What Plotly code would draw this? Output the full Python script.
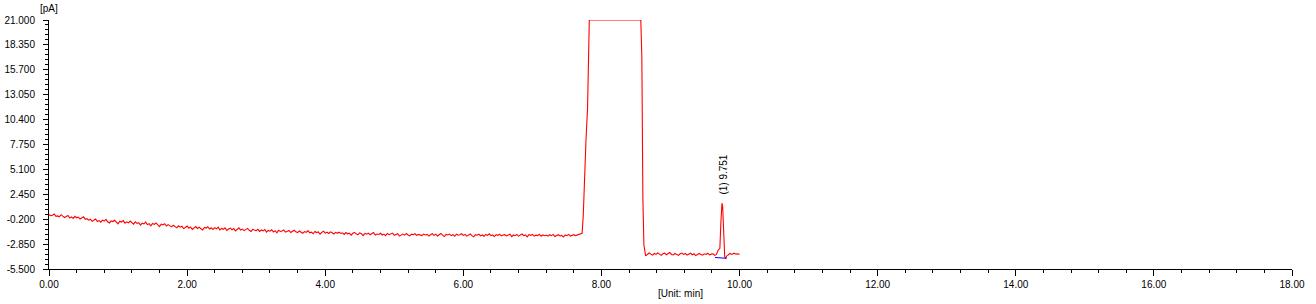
import numpy as np
import plotly.graph_objects as go

# ---- data ----
# baseline before the solvent peak, sampled every 0.025 min from 0.000 to 7.675
base_a_start = 0.0
base_a_step = 0.025
base_a = [
    0.30, 0.18, 0.22, 0.35, 0.10, 0.15, 0.05, 0.28, 0.12, -0.02, 0.08, 0.20, -0.08, 0.05, -0.12, 0.10, -0.05, 0.02, -0.18, -0.10, 0.05, -0.22, -0.15, -0.30,
    -0.20, -0.42, -0.28, -0.18, -0.45, -0.35, -0.52, -0.30, -0.40, -0.22, -0.48, -0.60, -0.38, -0.45, -0.32, -0.55, -0.70, -0.42, -0.50, -0.35, -0.62, -0.48, -0.58, -0.40,
    -0.55, -0.72, -0.48, -0.65, -0.58, -0.82, -0.62, -0.70, -0.52, -0.78, -0.68, -0.90, -0.65, -0.75, -0.60, -0.85, -0.98, -0.72, -0.80, -0.68, -0.92, -0.78, -0.88, -1.02,
    -0.85, -0.98, -1.12, -0.90, -1.05, -0.95, -1.20, -1.08, -0.92, -1.15, -1.02, -1.28, -1.10, -0.98, -1.18, -1.05, -1.22, -1.35, -1.08, -1.15, -1.00, -1.25, -1.12, -1.30,
    -1.10, -1.22, -1.05, -1.35, -1.18, -1.28, -1.12, -1.40, -1.25, -1.15, -1.32, -1.20, -1.45, -1.28, -1.12, -1.35, -1.25, -1.42, -1.30, -1.18, -1.38, -1.50, -1.28, -1.35,
    -1.42, -1.28, -1.50, -1.35, -1.45, -1.30, -1.58, -1.40, -1.48, -1.32, -1.55, -1.42, -1.65, -1.38, -1.50, -1.45, -1.35, -1.58, -1.48, -1.40, -1.62, -1.50, -1.38, -1.55,
    -1.62, -1.45, -1.55, -1.70, -1.52, -1.60, -1.42, -1.65, -1.58, -1.75, -1.50, -1.62, -1.55, -1.80, -1.60, -1.48, -1.68, -1.58, -1.72, -1.55, -1.65, -1.78, -1.60, -1.70,
    -1.58, -1.72, -1.65, -1.82, -1.62, -1.75, -1.68, -1.90, -1.70, -1.60, -1.78, -1.85, -1.65, -1.75, -1.95, -1.72, -1.80, -1.68, -1.85, -1.75, -1.62, -1.88, -1.78, -1.82,
    -1.70, -1.88, -1.78, -1.95, -1.72, -1.85, -1.80, -1.68, -1.92, -1.82, -1.75, -2.00, -1.85, -1.78, -1.90, -1.72, -1.88, -1.98, -1.80, -1.85, -1.75, -1.92, -1.82, -1.88,
    -1.95, -1.78, -1.88, -1.82, -2.00, -1.85, -1.75, -1.92, -1.80, -1.98, -1.88, -1.72, -1.90, -2.05, -1.82, -1.88, -1.78, -1.95, -1.85, -2.02, -1.80, -1.90, -1.85, -1.75,
    -1.92, -1.82, -2.00, -1.88, -1.78, -1.95, -2.08, -1.85, -1.90, -1.80, -1.98, -1.88, -2.02, -1.82, -1.92, -1.75, -1.95, -1.88, -2.05, -1.85, -1.92, -1.80, -1.98, -1.88,
    -1.85, -1.98, -1.90, -1.80, -2.05, -1.88, -1.95, -1.82, -2.00, -1.92, -1.78, -1.95, -1.88, -2.08, -1.85, -1.92, -1.82, -2.00, -1.90, -1.95, -1.80, -2.02, -1.88, -1.95,
    -1.88, -2.00, -1.85, -1.95, -1.82, -2.05, -1.90, -1.85, -1.98, -1.92, -2.10, -1.88, -1.95, -1.82, -2.00, -1.90, -1.85, -1.95, -1.88, -1.80,
]

# solvent peak (detector saturated at the top of the scale)
solvent_t = [7.720, 7.737, 7.756, 7.776, 7.799, 7.809, 7.824, 8.570, 8.585, 8.600, 8.615, 8.640]
solvent_v = [-1.70, 0.25, 5.00, 8.20, 11.60, 17.00, 21.00, 21.00, 17.00, 2.00, -2.95, -4.10]

# baseline after the solvent peak, every 0.025 min from 8.665 to 9.665
base_c_start = 8.665
base_c_step = 0.025
base_c = [
    -3.95, -3.80, -3.92, -4.02, -3.85, -3.95, -3.78, -3.90, -4.05, -3.88,
    -3.82, -3.98, -3.90, -3.75, -3.95, -4.00, -3.85, -3.92, -4.05, -3.88,
    -3.80, -3.95, -3.85, -4.02, -3.90, -3.82, -3.98, -3.88, -4.08, -3.92,
    -3.85, -3.95, -4.02, -3.88, -3.95, -3.82, -4.00, -3.92, -3.88, -4.05,
    -3.95,
]

# analyte peak (1) at 9.751 min and the tail to 10.00 min
peak_t = [9.690, 9.715, 9.730, 9.745, 9.755, 9.770, 9.785, 9.800, 9.815, 9.830, 9.860, 9.890, 9.920, 9.950, 9.980, 10.000]
peak_v = [-3.50, -3.30, -0.50, 1.50, 1.20, -3.00, -4.20, -4.35, -4.10, -4.05, -3.85, -3.95, -3.82, -3.92, -3.88, -3.95]

# integration baseline of peak (1)
intbase_t = [9.644, 9.813]
intbase_v = [-4.28, -4.36]

peak_label = "(1) 9.751"
peak_rt = 9.751
peak_top = 1.50

x_ticks = [0, 2, 4, 6, 8, 10, 12, 14, 16, 18]
y_ticks = [-5.5, -2.85, -0.2, 2.45, 5.1, 7.75, 10.4, 13.05, 15.7, 18.35, 21.0]

# ---- assemble trace ----
t_a = base_a_start + base_a_step * np.arange(len(base_a))
t_c = base_c_start + base_c_step * np.arange(len(base_c))
t_all = np.concatenate([t_a, solvent_t, t_c, peak_t])
v_all = np.concatenate([base_a, solvent_v, base_c, peak_v])

FONT = "Liberation Sans, Arial, sans-serif"

fig = go.Figure()
fig.add_trace(go.Scatter(x=t_all, y=v_all, mode="lines",
                         line=dict(color="#ff0000", width=1.1), hoverinfo="skip"))
fig.add_trace(go.Scatter(x=intbase_t, y=intbase_v, mode="lines",
                         line=dict(color="#0000ff", width=1.1), hoverinfo="skip"))

fig.update_layout(
    width=1316, height=304,
    margin=dict(l=49, r=24, t=20, b=35, autoexpand=False),
    paper_bgcolor="white", plot_bgcolor="white",
    showlegend=False,
    font=dict(family=FONT, size=10, color="#000000"),
    xaxis=dict(
        range=[0, 18], tickvals=x_ticks,
        ticktext=[f"{v:.2f}" for v in x_ticks],
        showgrid=False, zeroline=False, automargin=False,
        showline=True, linecolor="black", linewidth=1,
        ticks="outside", ticklen=6, tickcolor="black", tickwidth=1,
        minor=dict(dtick=0.4, tick0=0, ticks="outside", ticklen=3, tickcolor="black", showgrid=False),
        tickfont=dict(family=FONT, size=10, color="#000000"),
    ),
    yaxis=dict(
        range=[-5.5, 21.0], tickvals=y_ticks,
        ticktext=[f"{v:.3f}" for v in y_ticks],
        showgrid=False, zeroline=False, automargin=False,
        showline=True, linecolor="black", linewidth=1,
        ticks="outside", ticklen=5, tickcolor="black", tickwidth=1,
        minor=dict(dtick=0.53, tick0=-5.5, ticks="outside", ticklen=3, tickcolor="black", showgrid=False),
        tickfont=dict(family=FONT, size=10, color="#000000"),
        ticklabelstandoff=6,
    ),
    annotations=[
        dict(text="[pA]", xref="paper", yref="paper", x=0, y=1, xanchor="center", yanchor="bottom",
             yshift=4, showarrow=False, font=dict(family=FONT, size=10, color="#000000")),
        dict(text="[Unit: min]", xref="paper", yref="paper", x=(680 - 49) / 1243, y=0,
             xanchor="center", yanchor="middle", yshift=-24, showarrow=False,
             font=dict(family=FONT, size=10, color="#000000")),
        dict(text=peak_label, x=peak_rt, y=peak_top, xref="x", yref="y", textangle=-90,
             xanchor="center", yanchor="bottom", yshift=7, xshift=1, showarrow=False,
             font=dict(family=FONT, size=10, color="#000000")),
    ],
)

fig.write_html("out.html", config={"displayModeBar": False})
